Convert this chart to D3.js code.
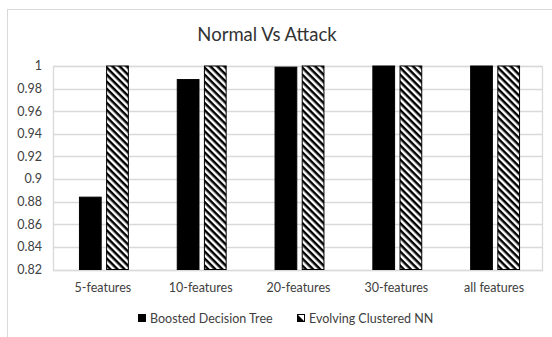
<!DOCTYPE html>
<html><head><meta charset="utf-8">
<script src="https://cdn.jsdelivr.net/npm/d3@7"></script>
<style>body{margin:0;background:#fff}svg{display:block}text{font-family:Lato,"Open Sans",sans-serif}</style>
</head><body>
<script>
const categories = ["5-features","10-features","20-features","30-features","all features"];
const seriesNames = ["Boosted Decision Tree","Evolving Clustered NN"];
const boosted = [0.884, 0.988, 0.999, 1.0, 1.0];
const evolving = [1.0, 1.0, 1.0, 1.0, 1.0];
const yTicks = [0.82,0.84,0.86,0.88,0.9,0.92,0.94,0.96,0.98,1];
const title = "Normal Vs Attack";

const W=552,H=337;
const svg=d3.select("body").append("svg").attr("width",W).attr("height",H);
const defs=svg.append("defs");
const pat=defs.append("pattern").attr("id","hatch").attr("patternUnits","userSpaceOnUse")
  .attr("width",5).attr("height",5).attr("patternTransform","rotate(45)");
pat.append("rect").attr("width",5).attr("height",5).attr("fill","#fff");
pat.append("rect").attr("x",0).attr("y",0).attr("width",5).attr("height",2.5).attr("fill","#000");

svg.append("rect").attr("x",7.5).attr("y",9.5).attr("width",600).attr("height",400)
  .attr("fill","none").attr("stroke","#d9d9d9");

const m={l:53.5,r:542.5,t:66,b:269.5};
const y=d3.scaleLinear().domain([0.82,1]).range([m.b,m.t]);
const x0=d3.scaleBand().domain(categories).range([m.l+1.5,m.r+1.5]);
const x1=d3.scaleBand().domain(seriesNames).range([0,x0.bandwidth()]).paddingInner(0.2).paddingOuter(0.9);

// grid
svg.append("g").selectAll("line").data(yTicks).join("line")
  .attr("x1",m.l).attr("x2",m.r).attr("y1",d=>Math.round(y(d))+0.5).attr("y2",d=>Math.round(y(d))+0.5)
  .attr("stroke","#d9d9d9").attr("stroke-width",1.3);
svg.append("rect").attr("x",m.l).attr("y",Math.round(y(1))+0.5).attr("width",m.r-m.l).attr("height",Math.round(y(0.82))-Math.round(y(1)))
  .attr("fill","none").attr("stroke","#d9d9d9").attr("stroke-width",1.3);

// y labels
svg.append("g").selectAll("text").data(yTicks).join("text")
  .attr("x",42).attr("y",d=>y(d)).attr("dy","0.35em").attr("text-anchor","end")
  .attr("font-size",12.5).attr("fill","#404040").text(d=>d3.format("~g")(d));

// bars
const data=categories.map((c,i)=>({c,vals:[{s:seriesNames[0],v:boosted[i]},{s:seriesNames[1],v:evolving[i]}]}));
const g=svg.append("g").selectAll("g").data(data).join("g").attr("transform",d=>`translate(${x0(d.c)},0)`);
g.selectAll("rect").data(d=>d.vals).join("rect")
  .attr("x",d=>x1(d.s)).attr("width",x1.bandwidth())
  .attr("y",d=>y(d.v)).attr("height",d=>y(0.82)-y(d.v))
  .attr("fill",(d,i)=>i===0?"#000":"url(#hatch)")
  .attr("stroke","#000").attr("stroke-width",1);

// x labels
svg.append("g").selectAll("text").data(categories).join("text")
  .attr("x",d=>x0(d)+x0.bandwidth()/2-1).attr("y",292).attr("text-anchor","middle")
  .attr("font-size",12.5).attr("fill","#404040").text(d=>d);

// title
svg.append("text").attr("x",267).attr("y",41).attr("text-anchor","middle")
  .attr("font-size",18.5).attr("fill","#333").text(title);

// legend
const leg=[{x:138,name:seriesNames[0]},{x:297,name:seriesNames[1]}];
leg.forEach((l,i)=>{
  if(i===0){
    svg.append("rect").attr("x",l.x).attr("y",314).attr("width",8).attr("height",8).attr("fill","#000");
  } else {
    svg.append("rect").attr("x",l.x+0.5).attr("y",314.5).attr("width",7).attr("height",7).attr("fill","#fff").attr("stroke","#000");
    svg.append("path").attr("d",`M${l.x} ${314}L${l.x+8} ${322}L${l.x} ${322}Z`).attr("fill","#000");
  }
  svg.append("text").attr("x",l.x+12).attr("y",322.5).attr("font-size",12.5).attr("fill","#404040").text(l.name);
});
</script>
</body></html>
